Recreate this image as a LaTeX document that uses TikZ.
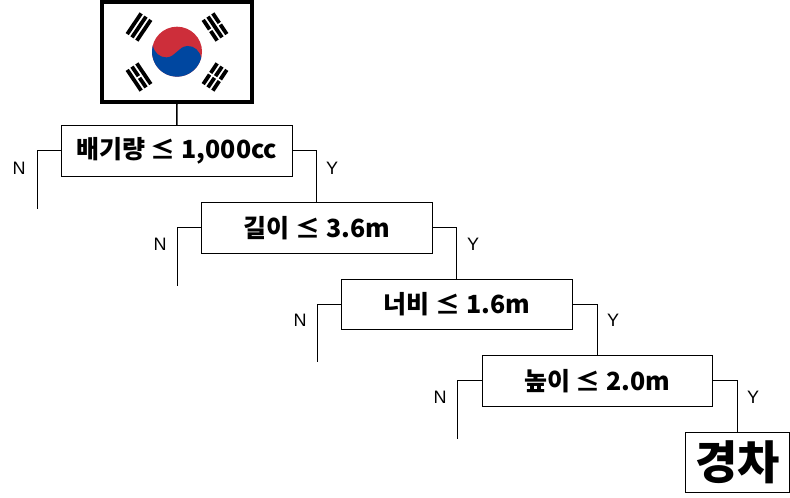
\documentclass[tikz,border=0pt]{standalone}
\usepackage{fontspec}
\setmainfont{Liberation Sans}
\newfontfamily\kr{Noto Sans CJK KR}
\definecolor{flagred}{HTML}{CD2E3A}
\definecolor{flagblue}{HTML}{0047A0}
\tikzset{
  x=1pt,y=1pt,
  test/.style={draw=black,line width=1pt,minimum width=230.5pt,minimum height=50.5pt,inner sep=0pt,font=\kr\bfseries\fontsize{25}{27}\selectfont},
  result/.style={draw=black,line width=1pt,minimum width=104pt,minimum height=60.5pt,inner sep=0pt,font=\kr\bfseries\fontsize{46}{48}\selectfont},
  flagframe/.style={draw=black,line width=4pt,fill=white,minimum width=150pt,minimum height=100pt,inner sep=0pt},
  edge/.style={draw=black,line width=1pt},
  stem/.style={draw=black,line width=1.5pt},
  lab/.style={font=\fontsize{18}{20}\selectfont,inner sep=0pt},
}
\newcommand{\solidbar}[1]{\fill[black] (-12.5,#1-1.9) rectangle (12.5,#1+1.9);}
\newcommand{\brokenbar}[1]{\fill[black] (-12.5,#1-1.9) rectangle (-1,#1+1.9) (1,#1-1.9) rectangle (12.5,#1+1.9);}
\begin{document}
\begin{tikzpicture}
\useasboundingbox (0,0) rectangle (790,498);
\node[flagframe] (flag) at (177,446) {};
% taegeuk
\begin{scope}[shift={(177,446.3)}]
  \fill[flagred] (0,0) circle[radius=25];
  \fill[flagblue] (-24.15,6.47)
    .. controls (-23,-1) and (-17,-6) .. (-10.5,-5.7)
    .. controls (-5.5,-5.5) and (-3,-2.5) .. (0,0)
    .. controls (3,2.5) and (5.5,5.5) .. (10.5,5.7)
    .. controls (17,6) and (23,1) .. (24.15,-6.47)
    arc[start angle=-15,end angle=-195,radius=25] -- cycle;
\end{scope}
% trigrams
\begin{scope}[shift={(139,471)},rotate=56]
  \solidbar{-5.8}\solidbar{0}\solidbar{5.8}
\end{scope}
\begin{scope}[shift={(215,471)},rotate=-56]
  \brokenbar{-5.8}\solidbar{0}\brokenbar{5.8}
\end{scope}
\begin{scope}[shift={(139,421)},rotate=-56]
  \solidbar{-5.8}\brokenbar{0}\solidbar{5.8}
\end{scope}
\begin{scope}[shift={(215,421)},rotate=56]
  \brokenbar{-5.8}\brokenbar{0}\brokenbar{5.8}
\end{scope}
% decision boxes
\node[test] (t1) at (176.75,347) {배기량 ≤ 1,000cc};
\node[test] (t2) at (316.75,270) {길이 ≤ 3.6m};
\node[test] (t3) at (456.75,193.5) {너비 ≤ 1.6m};
\node[test] (t4) at (597.25,117) {높이 ≤ 2.0m};
\node[result] (car) at (737.5,35.25) {경차};
% free ends
\coordinate (n1) at (37,289);
\coordinate (n2) at (177,212);
\coordinate (n3) at (317,136);
\coordinate (n4) at (457.5,59);
% connectors
\draw[stem] (flag.south) -- (t1.north);
\draw[edge] (t1.west) -| (n1);
\draw[edge] (t2.west) -| (n2);
\draw[edge] (t3.west) -| (n3);
\draw[edge] (t4.west) -| (n4);
\draw[edge] (t1.east) -| (t2.north);
\draw[edge] (t2.east) -| (t3.north);
\draw[edge] (t3.east) -| (t4.north);
\draw[edge] (t4.east) -| (car.north);
% labels
\node[lab] (ln1) at (19,330) {N};
\node[lab] (ly1) at (332,330) {Y};
\node[lab] (ln2) at (160,254) {N};
\node[lab] (ly2) at (473,254) {Y};
\node[lab] (ln3) at (300,178) {N};
\node[lab] (ly3) at (613,178) {Y};
\node[lab] (ln4) at (440,101) {N};
\node[lab] (ly4) at (753,101) {Y};
\end{tikzpicture}
\end{document}
